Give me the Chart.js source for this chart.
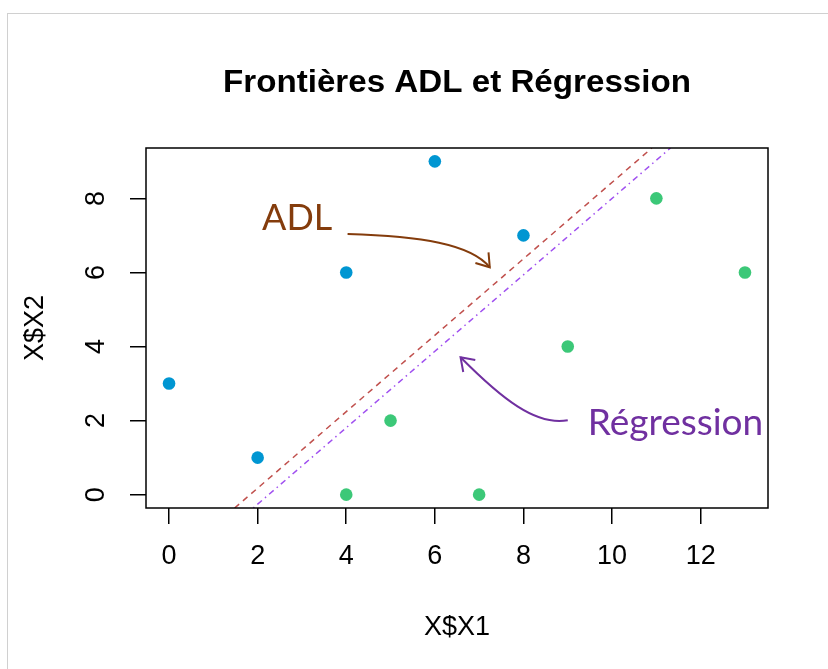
<!DOCTYPE html>
<html lang="fr">
<head>
<meta charset="utf-8">
<title>Frontières ADL et Régression</title>
<script src="https://cdn.jsdelivr.net/npm/chart.js@4"></script>
<style>
  html, body { margin: 0; padding: 0; background: #fff; }
  #cadre {
    position: absolute; left: 7px; top: 13px;
    width: 900px; height: 700px;
    border: 1px solid #d0d0d0;
  }
  #zone { position: absolute; left: 0; top: 0; width: 828px; height: 669px; }
</style>
</head>
<body>
<div id="cadre"></div>
<div id="zone"><canvas id="frontieres"></canvas></div>
<script>
// Classe 1 (bleu)
const classe1X = [0, 2, 4, 6, 8];
const classe1Y = [3, 1, 6, 9, 7];
// Classe 2 (vert)
const classe2X = [4, 5, 7, 9, 11, 13];
const classe2Y = [0, 2, 0, 4, 8, 6];

// Frontières : extrémités des droites dans le cadre
const adlX = [1.48, 10.9];
const adlY = [-0.36, 9.36];
const regX = [1.9, 11.32];
const regY = [-0.36, 9.36];

// Graduations
const ticksX = [0, 2, 4, 6, 8, 10, 12];
const ticksY = [0, 2, 4, 6, 8];

const POLICE = '"Liberation Sans", Arial, sans-serif';
const TITRE = 'Frontières ADL et Régression';

const points = (xs, ys) => xs.map((x, i) => ({ x: x, y: ys[i] }));

// Titre, cadre du graphique et annotations flèchées
const decor = {
    id: 'decor',
    afterDatasetsDraw(chart) {
        const ctx = chart.ctx;
        const a = chart.chartArea;
        const sx = chart.scales.x, sy = chart.scales.y;
        const px = (x, y) => [sx.getPixelForValue(x), sy.getPixelForValue(y)];

        ctx.save();
        // cadre
        ctx.strokeStyle = '#000';
        ctx.lineWidth = 1.5;
        ctx.strokeRect(a.left, a.top, a.right - a.left, a.bottom - a.top);

        // titre, étiré sur 468 px
        ctx.fillStyle = '#000';
        ctx.font = 'bold 31px ' + POLICE;
        ctx.textAlign = 'center';
        ctx.textBaseline = 'alphabetic';
        const k = 468 / ctx.measureText(TITRE).width;
        ctx.save();
        ctx.translate((a.left + a.right) / 2, 92);
        ctx.scale(k, 1);
        ctx.fillText(TITRE, 0, 0);
        ctx.restore();

        // flèche courbe avec pointe ouverte
        const fleche = (p0, p1, p2, p3, couleur) => {
            ctx.strokeStyle = couleur;
            ctx.lineWidth = 2;
            ctx.beginPath();
            ctx.moveTo(...p0);
            ctx.bezierCurveTo(...p1, ...p2, ...p3);
            ctx.stroke();
            const ang = Math.atan2(p3[1] - p2[1], p3[0] - p2[0]);
            const L = 15, d = 0.6;
            ctx.beginPath();
            ctx.moveTo(p3[0] - L * Math.cos(ang - d), p3[1] - L * Math.sin(ang - d));
            ctx.lineTo(p3[0], p3[1]);
            ctx.lineTo(p3[0] - L * Math.cos(ang + d), p3[1] - L * Math.sin(ang + d));
            ctx.stroke();
        };

        ctx.textAlign = 'left';
        ctx.textBaseline = 'alphabetic';

        ctx.font = '36px Lato, "Open Sans", sans-serif';
        ctx.fillStyle = '#843C0C';
        ctx.fillText('ADL', ...px(2.1, 7.15));
        fleche(px(4.03, 7.04), px(5.68, 6.98), px(6.81, 6.77), px(7.24, 6.14), '#843C0C');

        ctx.font = '37px Lato, "Open Sans", sans-serif';
        ctx.fillStyle = '#7030A0';
        ctx.fillText('Régression', ...px(9.45, 1.6));
        fleche(px(9.0, 2.01), px(8.28, 1.85), px(7.5, 2.6), px(6.58, 3.71), '#7030A0');
        ctx.restore();
    }
};

const nuage = (data, couleur) => ({
    type: 'scatter',
    data: data,
    backgroundColor: couleur,
    borderColor: couleur,
    pointRadius: 6.3,
    pointHoverRadius: 6.3,
    borderWidth: 0
});

const droite = (data, couleur, tirets) => ({
    type: 'line',
    data: data,
    borderColor: couleur,
    borderWidth: 1.5,
    borderDash: tirets,
    pointRadius: 0,
    fill: false
});

const ctx = document.getElementById('frontieres').getContext('2d');
new Chart(ctx, {
    type: 'scatter',
    data: {
        datasets: [
            droite(points(adlX, adlY), '#C0504D', [6, 5]),
            droite(points(regX, regY), '#A050F0', [1.5, 4, 6, 4]),
            nuage(points(classe1X, classe1Y), '#0096D2'),
            nuage(points(classe2X, classe2Y), '#3CC878')
        ]
    },
    options: {
        responsive: true,
        maintainAspectRatio: false,
        animation: false,
        layout: { padding: { left: 0, right: 60, top: 148, bottom: 0 } },
        plugins: {
            legend: { display: false },
            tooltip: { enabled: false }
        },
        scales: {
            x: {
                type: 'linear',
                min: -0.52,
                max: 13.52,
                afterBuildTicks: s => { s.ticks = ticksX.map(v => ({ value: v })); },
                afterFit: s => { s.height = 161; },
                border: { display: false },
                grid: { drawOnChartArea: false, drawTicks: true, tickLength: 16, color: '#000', lineWidth: 1.5 },
                ticks: { color: '#000', font: { family: POLICE, size: 27 }, padding: 16, maxRotation: 0 },
                title: { display: true, text: 'X$X1', color: '#000', font: { family: POLICE, size: 27 }, padding: { top: 0, bottom: 25 } }
            },
            y: {
                type: 'linear',
                min: -0.36,
                max: 9.36,
                afterBuildTicks: s => { s.ticks = ticksY.map(v => ({ value: v })); },
                afterFit: s => { s.width = 146; },
                border: { display: false },
                grid: { drawOnChartArea: false, drawTicks: true, tickLength: 16, color: '#000', lineWidth: 1.5 },
                ticks: { color: '#000', font: { family: POLICE, size: 27 }, padding: 26, minRotation: 90, maxRotation: 90, crossAlign: 'center' },
                title: { display: true, text: 'X$X2', color: '#000', font: { family: POLICE, size: 27 }, padding: { top: 19, bottom: 0 } }
            }
        }
    },
    plugins: [decor]
});
</script>
</body>
</html>
